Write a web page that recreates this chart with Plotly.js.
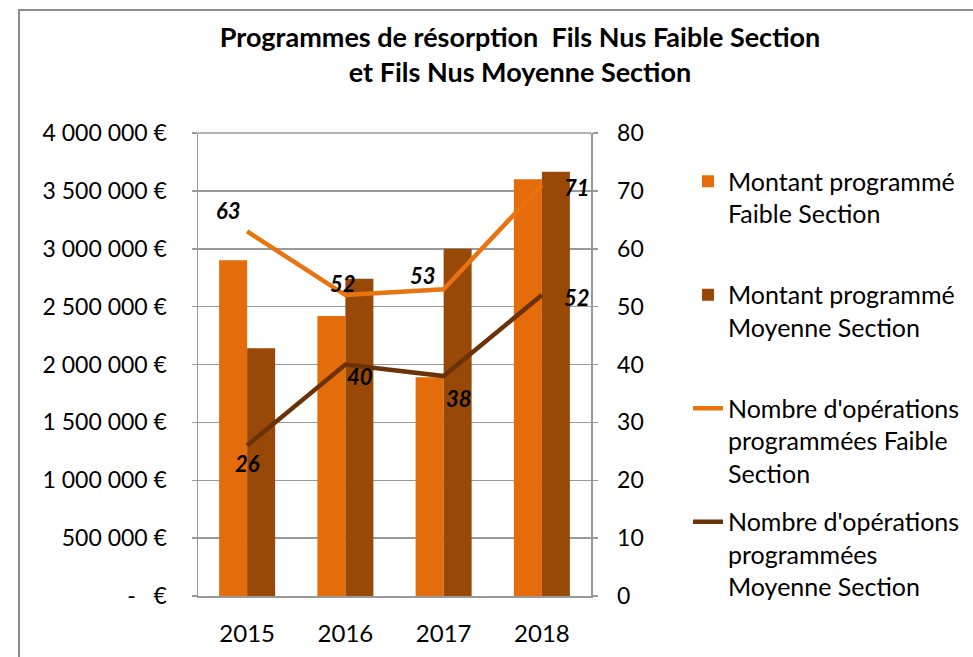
<!DOCTYPE html>
<html>
<head>
<meta charset="utf-8">
<script src="https://cdn.plot.ly/plotly-3.0.1.min.js"></script>
<style>html,body{margin:0;padding:0;background:#fff;}</style>
</head>
<body>
<div id="chart" style="width:973px;height:657px;"></div>
<script>
// ---- data ----
var years = ['2015', '2016', '2017', '2018'];
var montantFaible = [2900000, 2420000, 1890000, 3600000];
var montantMoyenne = [2140000, 2740000, 3000000, 3665000];
var nbOpFaible = [63, 52, 53, 71];
var nbOpMoyenne = [26, 40, 38, 52];
var yTickVals = [0, 500000, 1000000, 1500000, 2000000, 2500000, 3000000, 3500000, 4000000];
var yTickText = ['-\u00a0\u00a0\u00a0€', '500 000 €', '1 000 000 €', '1 500 000 €', '2 000 000 €',
                 '2 500 000 €', '3 000 000 €', '3 500 000 €', '4 000 000 €'];
var y2TickVals = [0, 10, 20, 30, 40, 50, 60, 70, 80];
var names = ['Montant programmé<br>Faible Section<br>\u00a0',
             'Montant programmé<br>Moyenne Section<br>\u00a0',
             "Nombre d'opérations<br>programmées Faible<br>Section",
             "Nombre d'opérations<br>programmées<br>Moyenne Section"];
var titleText = 'Programmes de résorption \u00a0Fils Nus Faible Section<br>et Fils Nus Moyenne Section';

// ---- styles / label offsets ----
var cOrange = '#E46C0A', cBrown = '#984807', cLineOrange = '#E8730F', cLineBrown = '#6A3206';
var offFaible = [[-19, 21], [-2, 12], [-21, 14], [35, -2]];
var offMoyenne = [[0, -18], [15, -12], [15, -22], [35, -2]];
var FONT = 'Lato, "Open Sans", sans-serif';
var gridC = '#999999';

var traces = [
  {type: 'bar', x: years, y: montantFaible, name: names[0], marker: {color: cOrange}, legendgroup: 'a'},
  {type: 'bar', x: years, y: montantMoyenne, name: names[1], marker: {color: cBrown}, legendgroup: 'b'},
  {type: 'scatter', mode: 'lines', x: years, y: nbOpFaible, yaxis: 'y2', name: names[2],
   line: {color: cLineOrange, width: 4.5}, legendgroup: 'c'},
  {type: 'scatter', mode: 'lines', x: years, y: nbOpMoyenne, yaxis: 'y2', name: names[3],
   line: {color: cLineBrown, width: 4.5}, legendgroup: 'd'}
];

var annotations = [];
function addLabels(vals, offs) {
  vals.forEach(function (v, i) {
    annotations.push({
      x: i, y: v, xref: 'x', yref: 'y2', text: '<b><i>' + v + '</i></b>',
      showarrow: false, xshift: offs[i][0], yshift: offs[i][1],
      font: {family: FONT, size: 22, color: '#000'}
    });
  });
}
addLabels(nbOpFaible, offFaible);
addLabels(nbOpMoyenne, offMoyenne);

var layout = {
  width: 973, height: 657,
  margin: {l: 198, r: 382, t: 133, b: 61, autoexpand: false},
  paper_bgcolor: '#fff', plot_bgcolor: '#fff',
  font: {family: FONT, size: 23, color: '#000'},
  title: {text: '<b>' + titleText + '</b>', x: 520 / 973, xanchor: 'center', xref: 'container',
          y: 0.928, yanchor: 'top', font: {family: FONT, size: 27, color: '#000'}},
  barmode: 'group', bargap: 0.43, bargroupgap: 0,
  showlegend: true,
  legend: {x: 1.2468, xanchor: 'left', y: 0.945, yanchor: 'top', valign: 'top',
           tracegroupgap: 13, font: {family: FONT, size: 25, color: '#000'},
           bgcolor: 'rgba(0,0,0,0)', traceorder: 'grouped'},
  xaxis: {type: 'category', range: [-0.5, 3.5], autorange: false, showgrid: false, showline: true,
          linecolor: gridC, linewidth: 1.5, mirror: false, ticks: '', ticklabelstandoff: 16,
          tickfont: {family: FONT, size: 24, color: '#000'}},
  yaxis: {range: [0, 4000000], autorange: false, tickmode: 'array', tickvals: yTickVals, ticktext: yTickText,
          showgrid: true, gridcolor: gridC, gridwidth: 1.5, showline: true, linecolor: gridC, linewidth: 1.5,
          ticks: 'outside', ticklen: 5, tickcolor: gridC, tickwidth: 1.5, ticklabelstandoff: 20,
          zeroline: false, tickfont: {family: FONT, size: 23, color: '#000'}},
  yaxis2: {range: [0, 80], autorange: false, tickmode: 'array', tickvals: y2TickVals, overlaying: 'y', side: 'right',
           showgrid: false, showline: true, linecolor: gridC, linewidth: 1.5, zeroline: false,
           ticks: 'outside', ticklen: 5, tickcolor: gridC, tickwidth: 1.5, ticklabelstandoff: 15,
           tickfont: {family: FONT, size: 23, color: '#000'}},
  annotations: annotations,
  shapes: [
    {type: 'line', xref: 'paper', yref: 'paper', x0: 0, x1: 1, y0: 1, y1: 1, line: {color: gridC, width: 1.5}},
    {type: 'rect', xref: 'paper', yref: 'paper', x0: (19 - 198) / 393, x1: (1000 - 198) / 393,
     y0: (596 - 700) / 463, y1: (596 - 10) / 463, line: {color: '#8c8c8c', width: 2}, layer: 'below'}
  ]
};

Plotly.newPlot('chart', traces, layout, {displayModeBar: false, staticPlot: true});
</script>
</body>
</html>
